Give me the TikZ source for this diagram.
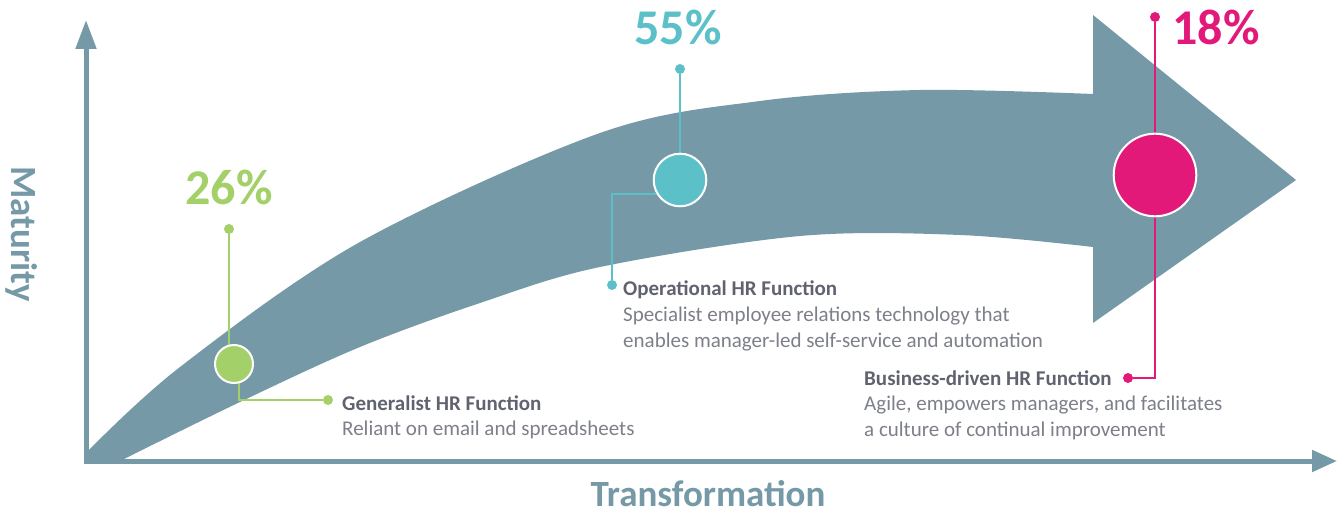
\documentclass[tikz,border=0pt]{standalone}
\usepackage{fontspec}
\setmainfont{Carlito}
\usetikzlibrary{arrows.meta}

\definecolor{steel}{RGB}{117,153,167}
\definecolor{hrgreen}{RGB}{163,208,104}
\definecolor{hrteal}{RGB}{91,192,200}
\definecolor{hrpink}{RGB}{227,25,122}
\definecolor{titlegray}{RGB}{96,98,112}
\definecolor{descgray}{RGB}{125,127,137}

\pgfdeclarelayer{shape}
\pgfdeclarelayer{lines}
\pgfsetlayers{shape,lines,main}

\begin{document}
\begin{tikzpicture}[x=1pt,y=-1pt,
  yaxis/.style={draw=steel, line width=5pt, -{Triangle[length=29pt,width=20pt]}},
  xaxis/.style={draw=steel, line width=5pt, -{Triangle[length=25pt,width=21pt]}},
  leader/.style={line width=2pt},
  dot/.style={circle, inner sep=0pt, minimum size=10pt},
  stage/.style={circle, draw=white, line width=2pt, inner sep=0pt},
  pct/.style={anchor=base, inner sep=0pt, font=\fontsize{50}{50}\selectfont\bfseries},
  axislabel/.style={inner sep=0pt, text=steel, font=\fontsize{37}{37}\selectfont\bfseries},
  block/.style={anchor=base west, inner sep=0pt, text=descgray, font=\fontsize{21}{25.6}\selectfont}
]
\useasboundingbox (0,0) rectangle (1337,510);

% curved growth arrow
\begin{pgfonlayer}{shape}
\fill[steel] (86,462) -- (86,453)
  -- plot[smooth, tension=0.55] coordinates {(86,453) (180,367) (360,242) (600,133) (760,101) (920,90) (1093,94)}
  -- (1093,15) -- (1296,180) -- (1093,323) -- (1093,247)
  -- plot[smooth, tension=0.55] coordinates {(1093,247) (960,235) (800,236) (600,267) (480,303) (360,347) (240,402) (118,462)}
  -- cycle;
\end{pgfonlayer}

% axes
\coordinate (o) at (86,461);
\coordinate (ytip) at (86,20);
\coordinate (xtip) at (1337,461);
\begin{pgfonlayer}{lines}
\draw[yaxis] ([yshift=-2.5pt]o) -- (ytip);
\draw[xaxis] ([xshift=-2.5pt]o) -- (xtip);
\end{pgfonlayer}

\node[axislabel, rotate=-90] (maturity) at (22,234) {Maturity};
\node[axislabel, anchor=base] (transformation) at (708,506) {Transformation};

% generalist stage
\node[dot, fill=hrgreen] (gdot1) at (229,229) {};
\node[dot, fill=hrgreen] (gdot2) at (328,400) {};
\node[stage, fill=hrgreen, minimum size=38pt] (gc) at (234,364) {};
\begin{pgfonlayer}{lines}
\draw[leader, hrgreen] (gdot1) -- (gdot1 |- gc.center);
\draw[leader, hrgreen] ([xshift=5pt]gc.center) |- (gdot2);
\end{pgfonlayer}
\node[pct, text=hrgreen] (gpct) at (229,205) {26\%};
\node[block] (gtext) at (342,410) {\begin{tabular}[t]{@{}l@{}}\textcolor{titlegray}{\bfseries Generalist HR Function}\\Reliant on email and spreadsheets\end{tabular}};

% operational stage
\node[dot, fill=hrteal] (tdot1) at (680,69) {};
\node[dot, fill=hrteal] (tdot2) at (612,285) {};
\node[stage, fill=hrteal, minimum size=52.6pt] (tc) at (680,180) {};
\begin{pgfonlayer}{lines}
\draw[leader, hrteal] (tdot1) -- (tc.center);
\draw[leader, hrteal] ([yshift=-14pt]tc.center) -| (tdot2);
\end{pgfonlayer}
\node[pct, text=hrteal] (tpct) at (678,45) {55\%};
\node[block] (ttext) at (623,296) {\begin{tabular}[t]{@{}l@{}}\textcolor{titlegray}{\bfseries Operational HR Function}\\Specialist employee relations technology that\\enables manager-led self-service and automation\end{tabular}};

% business-driven stage
\node[dot, fill=hrpink] (pdot1) at (1155,17) {};
\node[dot, fill=hrpink] (pdot2) at (1128,378) {};
\node[stage, fill=hrpink, minimum size=82.6pt] (pc) at (1155,175) {};
\begin{pgfonlayer}{lines}
\draw[leader, hrpink] (pdot1) |- (pdot2);
\end{pgfonlayer}
\node[pct, text=hrpink] (ppct) at (1216,45) {18\%};
\node[block] (ptext) at (864,385) {\begin{tabular}[t]{@{}l@{}}\textcolor{titlegray}{\bfseries Business-driven HR Function}\\Agile, empowers managers, and facilitates\\a culture of continual improvement\end{tabular}};
\end{tikzpicture}
\end{document}
